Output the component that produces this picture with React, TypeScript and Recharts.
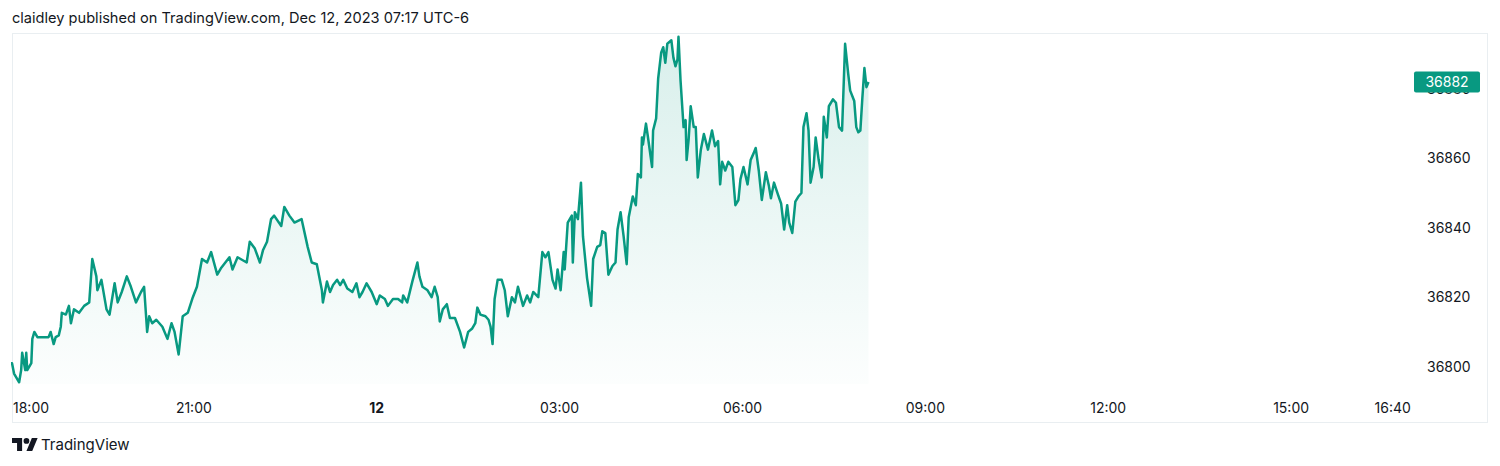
import React from 'react';
import { AreaChart, Area, XAxis, YAxis } from 'recharts';

// minutes after 18:00 (session open) and YM price
const minutes = [
  0, 1, 3, 8, 10, 11, 14, 15, 16, 20,
  21, 23, 26, 37, 39, 42, 44, 47, 49, 50,
  54, 57, 59, 62, 67, 72, 77, 80, 84, 85,
  89, 94, 97, 102, 105, 109, 114, 118, 123, 128,
  131, 134, 136, 139, 143, 149, 154, 158, 161, 165,
  169, 174, 179, 183, 188, 193, 197, 203, 207, 215,
  218, 223, 232, 235, 240, 245, 248, 252, 256, 259,
  266, 269, 274, 279, 286, 292, 296, 301, 306, 307,
  311, 314, 317, 321, 324, 327, 331, 336, 340, 343,
  346, 350, 355, 360, 363, 368, 371, 376, 381, 385,
  386, 390, 395, 400, 402, 405, 410, 414, 417, 420,
  422, 425, 429, 432, 437, 442, 446, 450, 454, 457,
  459, 462, 467, 470, 472, 474, 476, 479, 483, 486,
  489, 493, 496, 499, 504, 508, 511, 514, 519, 523,
  526, 529, 533, 536, 538, 541, 544, 545, 548, 552,
  553, 555, 558, 561, 563, 567, 571, 573, 577, 580,
  582, 585, 588, 592, 595, 597, 600, 603, 606, 608,
  612, 615, 617, 620, 621, 622, 625, 627, 631, 632,
  635, 637, 640, 642, 644, 646, 650, 652, 654, 656,
  657, 659, 662, 664, 665, 667, 669, 672, 674, 676,
  679, 682, 686, 690, 693, 696, 698, 700, 703, 706,
  710, 713, 716, 718, 721, 725, 728, 731, 733, 736,
  739, 743, 746, 748, 751, 755, 758, 761, 764, 766,
  769, 772, 775, 778, 780, 783, 785, 787, 790, 792,
  795, 798, 800, 803, 805, 809, 812, 815, 818, 821,
  824, 826, 830, 832, 834, 836, 838, 840, 842, 844,
];

const prices = [
  36801, 36801, 36798, 36795.5, 36799, 36804, 36799, 36804, 36799, 36801,
  36808, 36810, 36808.5, 36808.5, 36810, 36806.5, 36808.5, 36809, 36811.5, 36815.5,
  36815, 36817.5, 36812.5, 36816.5, 36815.5, 36817.5, 36818.5, 36831, 36826, 36822,
  36825, 36816.5, 36815, 36824, 36818.5, 36821.5, 36826, 36823, 36818.5, 36821.5,
  36823, 36810, 36814.5, 36812.5, 36813.5, 36811.5, 36808, 36812.5, 36810, 36803.5,
  36814.5, 36815.5, 36820, 36823, 36831, 36830, 36833, 36826.5, 36828.5, 36831.5,
  36828, 36831.5, 36830, 36836, 36834, 36830, 36833.5, 36836, 36842.5, 36843.5,
  36840.5, 36846, 36843.5, 36841.5, 36842.5, 36834.5, 36830, 36829.5, 36822, 36818.5,
  36824.5, 36821.5, 36823.5, 36825, 36823.5, 36825, 36822.5, 36821.5, 36824, 36820,
  36821.5, 36824, 36821.5, 36818, 36820.5, 36819.5, 36817.5, 36819.5, 36819.5, 36818.5,
  36820.5, 36818.5, 36824.5, 36830, 36826, 36823, 36822, 36820, 36823, 36820,
  36813, 36816.5, 36818, 36814, 36814, 36810, 36805.5, 36810, 36811, 36812.5,
  36817, 36815, 36814.5, 36813.5, 36811.5, 36806.5, 36819.5, 36825, 36825, 36822,
  36814.5, 36820, 36818.5, 36823, 36817.5, 36820.5, 36818.5, 36821.5, 36820, 36833,
  36831.5, 36833, 36825, 36822.5, 36828, 36822, 36833, 36828, 36841.5, 36843.5,
  36830, 36844.5, 36842.5, 36853, 36837.5, 36825.5, 36817.5, 36831, 36834.5, 36835,
  36839, 36838.5, 36826.5, 36829, 36830, 36839.5, 36844.5, 36837.5, 36829.5, 36843,
  36849, 36846.5, 36855.5, 36854.5, 36866, 36864, 36870, 36866, 36857.5, 36868,
  36871.5, 36883, 36890.5, 36892, 36887.5, 36893, 36894, 36889, 36886.5, 36888.5,
  36895, 36882.5, 36869, 36871, 36859.5, 36865.5, 36875, 36869, 36869, 36854.5,
  36862.5, 36867, 36862.5, 36868, 36863.5, 36865, 36852.5, 36859, 36856.5, 36859,
  36857.5, 36846.5, 36848, 36854, 36857.5, 36852.5, 36859.5, 36861.5, 36863, 36856.5,
  36848, 36856, 36852, 36848.5, 36853, 36849.5, 36847, 36839.5, 36846.5, 36841.5,
  36838.5, 36847.5, 36849, 36850, 36869, 36873, 36868, 36853, 36857.5, 36866,
  36859.5, 36854.5, 36872, 36866, 36875, 36877, 36876, 36869, 36868, 36893,
  36884.5, 36879.5, 36876.5, 36869, 36867.5, 36868, 36877.5, 36886, 36880.5, 36882,
];

const timeTicks = [0, 180, 360, 540, 720, 900, 1080, 1260, 1360];
const timeLabels = ['18:00', '21:00', '12', '03:00', '06:00', '09:00', '12:00', '15:00', '16:40'];
const priceTicks = [36800, 36820, 36840, 36860, 36880];

const GREEN = '#089981';
const TEXT = '#131722';
const FONT = 'Inter, "Noto Sans", sans-serif';

const data = minutes.map((m, i) => ({ m, price: prices[i] }));
const lastPrice = prices[prices.length - 1];

const TimeTick = (props: any) => {
  const { x, y, payload } = props;
  const idx = timeTicks.indexOf(payload.value);
  const label = timeLabels[idx];
  const first = idx === 0;
  return (
    <text
      x={first ? x + 2 : x}
      y={y + 21}
      textAnchor={first ? 'start' : 'middle'}
      fill={TEXT}
      fontSize={14}
      fontFamily={FONT}
      fontWeight={label === '12' ? 700 : 400}
    >
      {label}
    </text>
  );
};

const PriceTick = (props: any) => {
  const { x, y, payload } = props;
  if (payload.value === lastPrice) {
    return (
      <g>
        <rect x={x - 5} y={y - 10.5} width={66} height={21} rx={2} fill={GREEN} />
        <text x={x + 28} y={y + 5} textAnchor="middle" fill="#ffffff" fontSize={14} fontFamily={FONT}>
          {payload.value}
        </text>
      </g>
    );
  }
  return (
    <text x={x + 8} y={y + 5} fill={TEXT} fontSize={14} fontFamily={FONT}>
      {payload.value}
    </text>
  );
};

const Logo = () => (
  <svg width={26} height={13} viewBox="0 4 36 18" style={{ position: 'absolute', left: 12, top: 438 }}>
    <path d="M14 22H7V11H0V4h14v18zM28 22h-8l7.5-18h8L28 22z" fill={TEXT} />
    <circle cx={20} cy={8} r={4} fill={TEXT} />
  </svg>
);

export default function App() {
  return (
    <div style={{ position: 'absolute', left: 0, top: 0, width: 1500, height: 466, background: '#fff', fontFamily: FONT }}>
      <div style={{ position: 'absolute', left: 12, top: 9, fontSize: 14.6, color: TEXT, whiteSpace: 'nowrap' }}>
        claidley published on TradingView.com, Dec 12, 2023 07:17 UTC-6
      </div>
      <div
        style={{
          position: 'absolute',
          left: 12,
          top: 33,
          width: 1476,
          height: 390,
          boxSizing: 'border-box',
          border: '1px solid #e9eef1',
        }}
      />
      <div style={{ position: 'absolute', left: 0, top: 0 }}>
        <AreaChart width={1500} height={466} data={data} margin={{ top: 33, right: 13, bottom: 52, left: 11 }}>
          <defs>
            <linearGradient id="fillGrad" x1="0" y1="0" x2="0" y2="1">
              <stop offset="0%" stopColor={GREEN} stopOpacity={0.26} />
              <stop offset="100%" stopColor={GREEN} stopOpacity={0.02} />
            </linearGradient>
          </defs>
          <XAxis
            dataKey="m"
            type="number"
            domain={[0, 1378]}
            ticks={timeTicks}
            allowDataOverflow
            axisLine={false}
            tickLine={false}
            height={30}
            tick={<TimeTick />}
            interval={0}
          />
          <YAxis
            orientation="right"
            type="number"
            domain={[36795, 36896.1]}
            ticks={[...priceTicks, lastPrice]}
            allowDataOverflow
            axisLine={false}
            tickLine={false}
            width={76}
            tick={<PriceTick />}
            interval={0}
          />
          <Area
            type="linear"
            dataKey="price"
            stroke={GREEN}
            strokeWidth={2.5}
            strokeLinejoin="round"
            fill="url(#fillGrad)"
            baseValue="dataMin"
            isAnimationActive={false}
            dot={false}
            activeDot={false}
          />
        </AreaChart>
      </div>
      <Logo />
      <div style={{ position: 'absolute', left: 41, top: 435, fontSize: 15, color: TEXT }}>TradingView</div>
    </div>
  );
}
